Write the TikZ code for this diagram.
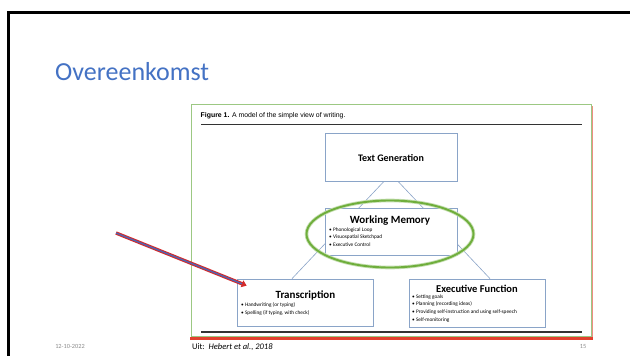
\documentclass[tikz,border=0pt]{standalone}
\usepackage{fontspec}
\setmainfont{Carlito}
\newfontfamily\helv{Liberation Sans}
\usetikzlibrary{arrows.meta}
\definecolor{titleblue}{HTML}{4472C4}
\definecolor{boxline}{HTML}{8AA4C8}
\definecolor{ellgreen}{HTML}{6FAE3C}
\definecolor{framegreen}{HTML}{9CC883}
\definecolor{framered}{HTML}{E2412F}
\definecolor{arrred}{HTML}{D42A2A}
\definecolor{arrblue}{HTML}{4A66B5}
\definecolor{footgray}{HTML}{8C8C8C}
\tikzset{
  mbox/.style={draw=boxline, line width=0.7pt, fill=white, inner sep=0pt},
  boxtitle/.style={font=\bfseries\fontsize{10.5}{12}\selectfont, inner sep=0pt},
  bullets/.style={font=\fontsize{5.3}{7.6}\selectfont, align=left, anchor=north west, inner sep=0pt},
  tri/.style={draw=boxline, line width=0.6pt},
  rulebar/.style={draw=black!80, line width=1.8pt},
  foot/.style={font=\fontsize{6.3}{7}\selectfont, text=footgray, inner sep=0pt}
}
\begin{document}
\begin{tikzpicture}[x=1pt,y=-1pt]
\useasboundingbox (0,0) rectangle (630,356);
\fill[white] (0,0) rectangle (630,356);
% slide border
\draw[line width=3pt] (8.5,356) -- (8.5,12.5) -- (630,12.5);
% title
\node[anchor=base west, font=\fontsize{26}{28}\selectfont, text=titleblue, inner sep=0pt] (title) at (55,80) {Overeenkomst};
% figure frame
\draw[framered!60, line width=1.2pt] (592.5,106) -- (592.5,338.5);
\draw[framered, line width=2.2pt] (190,338.5) -- (593,338.5);
\draw[framegreen, line width=1pt] (191,104) rectangle (591,336.5);
% caption
\node[anchor=base west, font=\helv\fontsize{6.9}{8}\selectfont, inner sep=0pt] (caption) at (200.5,117.5) {\textbf{Figure 1.} A model of the simple view of writing.};
\draw[rulebar] (201,124.5) -- (582,124.5);
\draw[rulebar] (201,332) -- (582,332);
% boxes
\node[mbox, minimum width=132pt, minimum height=48pt] (tg) at (391,157) {};
\node[mbox, minimum width=136pt, minimum height=47pt] (tr) at (305,302.5) {};
\node[mbox, minimum width=136pt, minimum height=48pt] (ef) at (477,303) {};
% triangle connectors (behind middle box)
\draw[tri] ([xshift=-7pt]tg.south) -- ([xshift=-13pt]tr.north);
\draw[tri] ([xshift=7pt]tg.south) -- ([xshift=13pt]ef.north);
\node[mbox, minimum width=132pt, minimum height=47pt] (wm) at (391,231.5) {};
% box texts
\node[boxtitle, font=\bfseries\fontsize{10}{12}\selectfont] (tgt) at (391,158) {Text Generation};
\node[boxtitle, font=\bfseries\fontsize{11}{12}\selectfont] (wmt) at (390,221) {Working Memory};
\node[bullets] (wmb) at (329,227.5) {• Phonological Loop\\• Visuospatial Sketchpad\\• Executive Control};
\node[boxtitle, font=\bfseries\fontsize{11}{12}\selectfont] (trt) at (305.5,295) {Transcription};
\node[bullets] (trb) at (241,302.5) {• Handwriting (or typing)\\• Spelling (if typing, with check)};
\node[boxtitle] (eft) at (477,288.5) {Executive Function};
\node[bullets] (efb) at (412,294.5) {• Setting goals\\• Planning (recording ideas)\\• Providing self-instruction and using self-speech\\• Self-monitoring};
% green ellipse
\draw[ellgreen!40, line width=3.6pt] (390,234) ellipse [x radius=83.5pt, y radius=33.5pt];
\draw[ellgreen, line width=1.9pt] (390,234) ellipse [x radius=83.5pt, y radius=33.5pt];
% arrow
\coordinate (arrstart) at (116,233);
\coordinate (arrtip) at ([shift={(10,7)}]tr.north west);
\draw[arrred, line width=3.4pt, -{Triangle[length=5pt,width=7pt]}] (arrstart) -- (arrtip);
\draw[arrblue, line width=1.3pt, shorten >=5pt] (arrstart) -- (arrtip);
% footer
\node[foot] (date) at (70,346.5) {12-10-2022};
\node[anchor=base west, font=\fontsize{8.5}{10}\selectfont, inner sep=0pt] (src) at (192,349.5) {Uit:\ \ \textit{Hebert et al., 2018}};
\node[foot] (page) at (583,346.5) {15};
\end{tikzpicture}
\end{document}
